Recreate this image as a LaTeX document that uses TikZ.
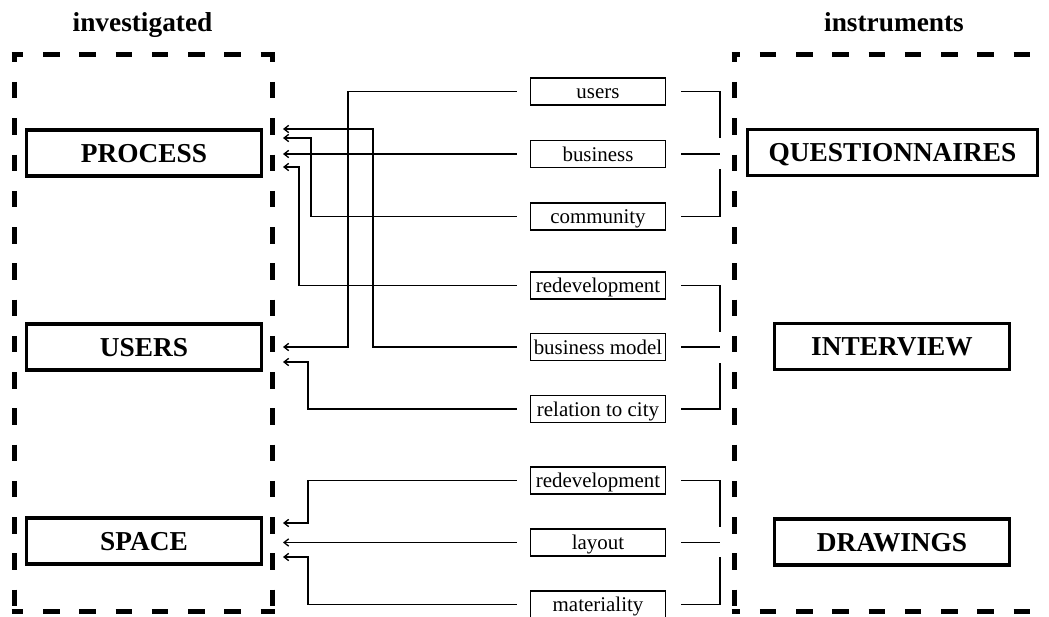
\documentclass[tikz,border=0pt]{standalone}
\usepackage{fontspec}
\setmainfont{Liberation Serif}
\usetikzlibrary{arrows.meta,calc}
\begin{document}
\begin{tikzpicture}[x=0.75pt,y=-0.75pt,
  bigbox/.style={draw, line width=2.5pt, minimum width=176pt, minimum height=34.5pt, inner sep=0pt,
    font=\fontsize{20.5}{24}\selectfont\bfseries, text height=13.6pt, text depth=0pt},
  smallbox/.style={draw, line width=1.1pt, minimum width=101pt, minimum height=20pt, inner sep=0pt,
    font=\fontsize{15.7}{18}\selectfont, text height=11pt, text depth=0.5pt},
  heading/.style={anchor=base, font=\fontsize{20.5}{24}\selectfont\bfseries},
  frameh/.style={line width=3.75pt, dash pattern=on 12.375pt off 14.8125pt},
  framev/.style={line width=3.75pt, dash pattern=on 12.375pt off 14.8125pt, dash phase=6.9375pt},
  link/.style={line width=1pt},
  feed/.style={link, -{Straight Barb[length=3.5pt,width=5.5pt]}},
]
\useasboundingbox (0,0) rectangle (1049,617);

% column headings
\node[heading] (hinv) at (142.5,32) {investigated};
\node[heading] (hins) at (894,32) {instruments};

% dashed frames of the two columns
\draw[frameh, dash phase=3.5625pt] (11.5,55) -- (274.5,55);
\draw[frameh, dash phase=3.5625pt] (11.5,611) -- (274.5,611);
\draw[framev] (14,55) -- (14,611);
\draw[framev] (272,55) -- (272,611);
\draw[frameh, dash phase=6pt] (731.5,55) -- (1049,55);
\draw[frameh, dash phase=6pt] (731.5,611) -- (1049,611);
\draw[framev] (734,55) -- (734,611);

% investigated themes
\node[bigbox] (process) at (144,153) {PROCESS};
\node[bigbox] (users) at (144,347) {USERS};
\node[bigbox] (space) at (144,541) {SPACE};

% instruments
\node[bigbox, minimum width=217.5pt] (quest) at (892.5,152.5) {QUESTIONNAIRES};
\node[bigbox] (interview) at (892,346.5) {INTERVIEW};
\node[bigbox] (drawings) at (892,542) {DRAWINGS};

% topics
\node[smallbox] (tusers) at (598,91.5) {users};
\node[smallbox] (tbusiness) at (598,154) {business};
\node[smallbox] (tcommunity) at (598,216.5) {community};
\node[smallbox] (tredev) at (598,285.5) {redevelopment};
\node[smallbox] (tmodel) at (598,347) {business model};
\node[smallbox] (tcity) at (598,409) {relation to city};
\node[smallbox] (tredevb) at (598,480.5) {redevelopment};
\node[smallbox] (tlayout) at (598,542.5) {layout};
\node[smallbox] (tmaterial) at (598,604.5) {materiality};

% arrow tips beside the themes
\coordinate (p1) at ($(process.east)+(20,-24)$);
\coordinate (p2) at ($(process.east)+(20,-15)$);
\coordinate (p3) at ($(process.east)+(20,1)$);
\coordinate (p4) at ($(process.east)+(20,14)$);
\coordinate (u1) at ($(users.east)+(20,0)$);
\coordinate (u2) at ($(users.east)+(20,15)$);
\coordinate (s1) at ($(space.east)+(20,-18)$);
\coordinate (s2) at ($(space.east)+(20,1)$);
\coordinate (s3) at ($(space.east)+(20,16)$);

% topic -> theme arrows
\draw[feed] ([xshift=-9.75pt]tmodel.west) -| ([xshift=67.5pt]p1) -- (p1);
\draw[feed] ([xshift=-9.75pt]tcommunity.west) -| ([xshift=21pt]p2) -- (p2);
\draw[feed] ([xshift=-9.75pt]tbusiness.west) -- (tbusiness.west -| p3);
\draw[feed] ([xshift=-9.75pt]tredev.west) -| ([xshift=12pt]p4) -- (p4);
\draw[feed] ([xshift=-9.75pt]tusers.west) -| ([xshift=48.75pt]u1) -- (u1);
\draw[feed] ([xshift=-9.75pt]tcity.west) -| ([xshift=18.75pt]u2) -- (u2);
\draw[feed] ([xshift=-9.75pt]tredevb.west) -| ([xshift=18.75pt]s1) -- (s1);
\draw[feed] ([xshift=-9.75pt]tlayout.west) -- (tlayout.west -| s2);
\draw[feed] ([xshift=-9.75pt]tmaterial.west) -| ([xshift=18.75pt]s3) -- (s3);

% brackets grouping topics per instrument
\coordinate (qj) at (720,154);
\coordinate (ij) at (720,347);
\coordinate (dj) at (720,542);
\draw[link] ([xshift=11.25pt]tusers.east) -| ([yshift=12pt]qj);
\draw[link] ([xshift=11.25pt]tbusiness.east) -- (tbusiness.east -| qj);
\draw[link] ([xshift=11.25pt]tcommunity.east) -| ([yshift=-11.25pt]qj);
\draw[link] ([xshift=11.25pt]tredev.east) -| ([yshift=11.25pt]ij);
\draw[link] ([xshift=11.25pt]tmodel.east) -- (tmodel.east -| ij);
\draw[link] ([xshift=11.25pt]tcity.east) -| ([yshift=-12pt]ij);
\draw[link] ([xshift=11.25pt]tredevb.east) -| ([yshift=11.25pt]dj);
\draw[link] ([xshift=11.25pt]tlayout.east) -- (tlayout.east -| dj);
\draw[link] ([xshift=11.25pt]tmaterial.east) -| ([yshift=-11.25pt]dj);
\end{tikzpicture}
\end{document}
